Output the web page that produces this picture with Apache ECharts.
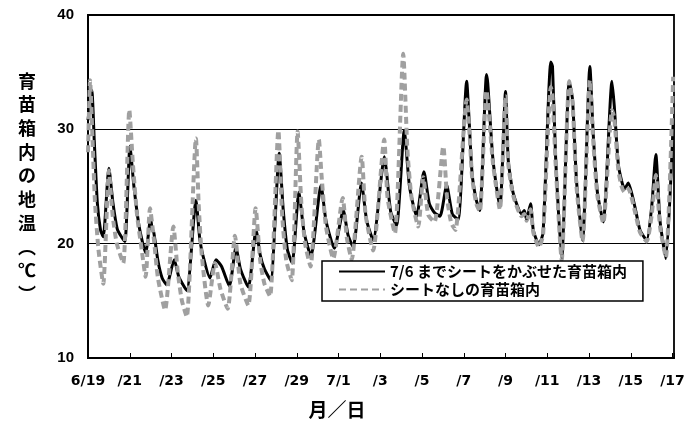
<!DOCTYPE html>
<html>
<head>
<meta charset="utf-8">
<script src="https://cdn.jsdelivr.net/npm/echarts@6/dist/echarts.min.js"></script>
<style>
html,body{margin:0;padding:0;background:#fff;}
#chart{width:689px;height:421px;}
</style>
</head>
<body>
<div id="chart"></div>
<script>
// x = days since 6/19 0:00, y = soil temperature (°C)
const tickLabels = ['6/19','/21','/23','/25','/27','/29','7/1','/3','/5','/7','/9','/11','/13','/15','/17'];
const seriesNames = ['7/6 までシートをかぶせた育苗箱内', 'シートなしの育苗箱内'];

const coveredPoints = [
[0.00,30.8],[0.18,33.4],[0.30,29.0],[0.45,23.5],[0.60,21.2],[0.73,20.6],
[1.00,26.6],[1.20,23.5],[1.40,21.3],[1.60,20.6],[1.77,20.2],
[2.01,28.5],[2.20,25.0],[2.45,21.5],[2.76,19.2],
[3.00,22.2],[3.07,21.3],[3.15,21.0],[3.35,18.5],[3.55,17.0],[3.77,16.4],
[4.13,18.6],[4.35,17.1],[4.73,15.9],
[5.17,23.8],[5.35,20.5],[5.50,19.0],[5.84,17.0],
[6.13,18.6],[6.40,18.0],[6.77,16.3],
[7.09,19.7],[7.30,17.8],[7.68,16.2],
[8.05,21.2],[8.25,19.0],[8.45,17.8],[8.75,16.8],
[9.16,27.9],[9.35,23.0],[9.55,19.5],[9.78,18.3],
[10.10,24.5],[10.35,21.0],[10.68,18.9],
[11.16,25.1],[11.40,22.0],[11.80,19.6],
[12.23,22.9],[12.45,20.8],[12.70,19.7],
[13.10,25.3],[13.35,22.0],[13.66,20.3],
[14.20,27.6],[14.30,26.3],[14.50,22.8],[14.78,21.6],
[15.15,29.9],[15.40,25.0],[15.74,22.4],
[16.09,26.3],[16.35,23.5],[16.60,22.7],[16.86,22.4],
[17.18,25.1],[17.45,22.6],[17.73,22.1],
[18.14,34.2],[18.25,31.0],[18.40,26.1],[18.60,23.8],[18.77,22.9],
[19.09,34.8],[19.15,34.0],[19.40,27.3],[19.73,23.2],
[20.00,33.3],[20.13,27.3],[20.37,24.4],[20.77,22.6],[20.90,22.9],
[21.01,22.1],[21.20,23.5],[21.33,21.2],[21.60,19.9],[21.80,21.0],
[22.17,35.9],[22.25,35.5],[22.40,27.5],[22.69,18.7],
[23.05,34.2],[23.21,32.6],[23.40,25.5],[23.69,20.3],
[24.04,35.5],[24.20,29.6],[24.40,24.5],[24.68,21.9],
[25.10,34.2],[25.21,32.0],[25.40,27.0],[25.56,25.5],[25.70,24.8],[25.88,25.3],
[26.20,23.2],[26.44,21.2],[26.76,20.3],
[27.00,23.2],[27.20,27.8],[27.40,22.0],[27.68,18.7],
[28.03,30.5]
];

const barePoints = [
[0.00,28.0],[0.10,34.3],[0.22,29.0],[0.33,23.8],[0.50,19.5],[0.73,16.5],
[1.00,26.4],[1.18,22.5],[1.38,20.0],[1.69,18.3],
[1.98,31.7],[2.15,27.0],[2.35,22.5],[2.57,19.5],[2.76,17.1],
[2.97,23.1],[3.15,20.5],[3.35,17.0],[3.69,14.2],
[4.09,21.5],[4.30,17.5],[4.50,15.0],[4.73,13.6],
[5.17,29.2],[5.30,23.5],[5.45,19.0],[5.76,14.6],
[6.08,18.3],[6.35,16.0],[6.69,14.3],
[7.04,20.7],[7.30,16.5],[7.68,14.6],
[8.03,23.1],[8.25,18.5],[8.45,16.5],[8.72,15.4],
[9.12,29.9],[9.30,22.5],[9.50,18.5],[9.76,16.8],
[10.04,29.8],[10.22,23.5],[10.40,20.0],[10.66,18.0],
[11.06,29.1],[11.19,25.9],[11.40,21.5],[11.75,18.7],
[12.20,24.0],[12.40,20.5],[12.63,18.6],
[13.11,27.6],[13.30,22.5],[13.66,19.4],
[14.19,29.1],[14.35,24.0],[14.70,20.9],
[15.10,36.6],[15.30,28.2],[15.50,24.0],[15.82,21.5],
[16.06,25.8],[16.30,22.5],[16.60,21.9],
[17.02,28.5],[17.20,24.0],[17.40,21.8],[17.60,21.2],
[18.14,32.6],[18.28,29.5],[18.40,25.8],[18.60,23.5],[18.77,22.8],
[19.09,33.4],[19.40,27.0],[19.73,23.0],
[20.00,32.9],[20.13,27.0],[20.37,24.2],[20.77,22.4],[20.90,22.6],
[21.01,22.0],[21.20,23.0],[21.33,21.0],[21.60,19.7],[21.80,20.8],
[22.17,33.7],[22.25,33.0],[22.40,27.0],[22.69,18.6],
[23.05,34.2],[23.21,32.4],[23.40,25.0],[23.69,20.2],
[24.04,34.3],[24.20,29.0],[24.40,24.2],[24.68,21.8],
[25.10,31.7],[25.21,31.0],[25.40,26.5],[25.56,25.0],[25.70,24.5],[25.88,24.8],
[26.20,22.8],[26.44,21.0],[26.76,20.2],
[27.00,22.5],[27.20,26.0],[27.40,21.5],[27.68,18.8],
[28.03,34.6]
];

const chart = echarts.init(document.getElementById('chart'), null, {renderer:'canvas'});
const jp = '"Noto Sans CJK JP"';
chart.setOption({
  animation: false,
  backgroundColor: '#fff',
  grid: {left:88, top:15, right:15, bottom:63, show:true, borderColor:'#000', borderWidth:1.8, backgroundColor:'rgba(0,0,0,0)'},
  xAxis: {
    type:'value', min:0, max:28.07, interval:2,
    axisLine:{onZero:false, lineStyle:{color:'#000', width:2}},
    axisTick:{inside:true, length:5, lineStyle:{color:'#000', width:1}},
    splitLine:{show:false},
    axisLabel:{
      margin:16, color:'#000', fontFamily:'DejaVu Sans', fontWeight:'bold', fontSize:14,
      formatter: function(v){ const i=Math.round(v/2); return Math.abs(v-i*2)<0.01 ? (tickLabels[i]||'') : ''; }
    }
  },
  yAxis: {
    type:'value', min:10, max:40, interval:10,
    axisLine:{show:true, lineStyle:{color:'#000', width:2}},
    axisTick:{show:false},
    splitLine:{show:true, lineStyle:{color:'#000', width:1}},
    axisLabel:{margin:14, color:'#000', fontFamily:'Liberation Sans', fontWeight:'bold', fontSize:15}
  },
  legend: {
    orient:'vertical', left:322, top:261, itemWidth:46, itemHeight:14, itemGap:3,
    padding:[3,16,4,16], backgroundColor:'#fff', borderColor:'#000', borderWidth:1.5,
    itemStyle:{opacity:0},
    textStyle:{fontFamily:jp, fontWeight:'bold', fontSize:15, color:'#000'},
    data: seriesNames
  },
  series: [
    {name:seriesNames[0], type:'line', data:coveredPoints, showSymbol:false, symbol:'none', smooth:0.2,
     lineStyle:{color:'#000', width:3}, itemStyle:{color:'#000'}, z:2},
    {name:seriesNames[1], type:'line', data:barePoints, showSymbol:false, symbol:'none', smooth:0.2,
     lineStyle:{color:'#a0a0a0', width:4, type:[7,4]}, itemStyle:{color:'#a0a0a0'}, z:3}
  ],
  graphic: [
    {type:'text', x:27, y:69, style:{text:'育\n苗\n箱\n内\nの\n地\n温\n︵\n℃\n︶', fill:'#000', font:'bold 18px '+jp, textAlign:'center', verticalAlign:'top', lineHeight:23.7}},
    {type:'text', x:337, y:410, style:{text:'月／日', fill:'#000', font:'bold 19px '+jp, textAlign:'center', verticalAlign:'middle'}}
  ]
});
</script>
</body>
</html>
